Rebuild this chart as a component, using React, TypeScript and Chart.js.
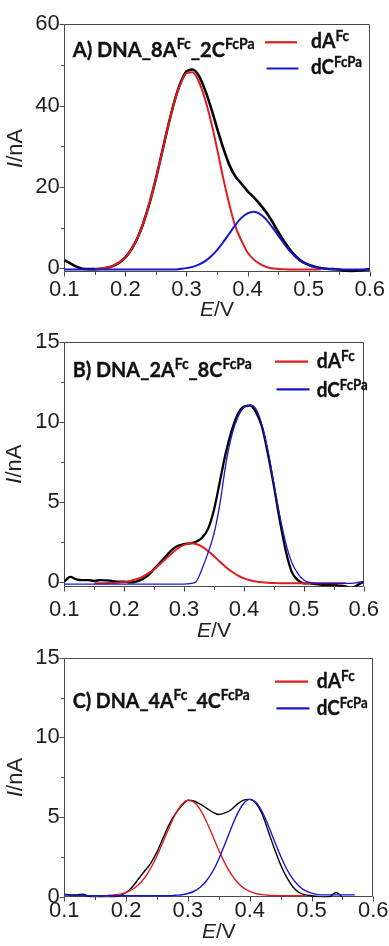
import React, { useEffect, useRef } from "react";
import { Chart, registerables } from "chart.js";

Chart.register(...registerables);

// ---------------- data ----------------
const potentials = [
  0.10, 0.11, 0.12, 0.13, 0.14, 0.15, 0.16, 0.17, 0.18, 0.19,
  0.20, 0.21, 0.22, 0.23, 0.24, 0.25, 0.26, 0.27, 0.28, 0.29,
  0.30, 0.31, 0.32, 0.33, 0.34, 0.35, 0.36, 0.37, 0.38, 0.39,
  0.40, 0.41, 0.42, 0.43, 0.44, 0.45, 0.46, 0.47, 0.48, 0.49,
  0.50, 0.51, 0.52, 0.53, 0.54, 0.55, 0.56, 0.57, 0.58, 0.59, 0.60,
];

const xTickValues = [0.1, 0.2, 0.3, 0.4, 0.5, 0.6];
const xTickLabels = ["0.1", "0.2", "0.3", "0.4", "0.5", "0.6"];
const xMinorValues = [0.15, 0.25, 0.35, 0.45, 0.55];

const yTicksA = [0, 20, 40, 60];
const yTickLabelsA = ["0", "20", "40", "60"];
const yMinorA = [10, 30, 50];
const yTicksBC = [0, 5, 10, 15];
const yTickLabelsBC = ["0", "5", "10", "15"];
const yMinorBC = [2.5, 7.5, 12.5];

// Panel A (nA)
const measuredA = [
  2.0, 1.2, 0.4, -0.1, -0.2, -0.2, -0.1, 0.15, 0.6, 1.4,
  2.7, 4.7, 7.5, 11.4, 16.3, 22.1, 28.5, 35.0, 40.9, 45.5,
  48.4, 48.9, 47.4, 44.0, 39.6, 34.5, 29.7, 25.5, 22.6, 20.8,
  19.0, 17.5, 15.8, 13.9, 11.6, 9.0, 6.6, 4.5, 2.8, 1.6,
  0.9, 0.4, 0.1, -0.1, -0.2, -0.3, -0.6, -0.7, -0.6, -0.4, -0.2,
];
const fitAdA = [
  null, null, null, null, null, -0.2, -0.05, 0.2, 0.66, 1.45,
  2.7, 4.7, 7.5, 11.4, 16.3, 22.1, 28.5, 35.0, 40.8, 45.3,
  48.0, 48.2, 46.0, 41.8, 36.2, 29.5, 22.3, 15.8, 10.3, 6.8,
  3.9, 2.2, 1.1, 0.4, 0.0, -0.15, -0.25, -0.3, -0.3, -0.3,
  -0.3, -0.3, -0.3, null, null, null, null, null, null, null, null,
];
const fitAdC = [
  -0.3, -0.3, -0.3, -0.3, -0.3, -0.3, -0.3, -0.3, -0.3, -0.3,
  -0.3, -0.3, -0.3, -0.3, -0.3, -0.3, -0.3, -0.3, -0.3, -0.13,
  0.05, 0.36, 0.9, 1.7, 2.9, 4.5, 6.4, 8.5, 10.6, 12.4,
  13.5, 13.9, 13.4, 12.1, 10.2, 8.1, 6.0, 4.1, 2.6, 1.5,
  0.8, 0.3, 0.0, -0.15, -0.22, -0.3, -0.3, -0.3, -0.3, -0.3, -0.3,
];

// Panel B (nA)
const measuredB = [
  0.0, 0.3, 0.15, 0.1, 0.1, 0.05, 0.1, 0.08, 0.05, 0.0,
  0.0, -0.05, 0.0, 0.15, 0.4, 0.8, 1.2, 1.6, 2.0, 2.25,
  2.35, 2.4, 2.5, 2.75, 3.3, 4.5, 6.3, 8.1, 9.5, 10.5,
  10.95, 11.0, 10.6, 9.7, 8.0, 6.0, 3.8, 1.9, 0.6, 0.1,
  -0.1, -0.1, -0.15, -0.2, -0.2, -0.2, -0.25, -0.3, -0.4, -0.2, 0.0,
];
const fitBdA = [
  null, null, null, null, null, -0.1, -0.1, -0.09, -0.08, -0.06,
  -0.02, 0.05, 0.15, 0.3, 0.52, 0.78, 1.1, 1.45, 1.8, 2.09,
  2.3, 2.4, 2.36, 2.19, 1.92, 1.59, 1.24, 0.9, 0.62, 0.38,
  0.21, 0.09, 0.01, -0.04, -0.07, -0.08, -0.1, -0.1, -0.1, -0.1,
  -0.1, -0.1, -0.1, -0.1, -0.1, -0.1, -0.1, -0.1, null, null, null,
];
const fitBdC = [
  -0.15, -0.15, -0.15, -0.15, -0.15, -0.15, -0.15, -0.15, -0.15, -0.15,
  -0.15, -0.15, -0.15, -0.15, -0.15, -0.15, -0.15, -0.15, -0.15, -0.15,
  -0.15, -0.12, 0.0, 0.8, 1.8, 3.0, 4.9, 7.4, 9.2, 10.3,
  10.9, 11.05, 10.8, 9.8, 8.2, 6.1, 4.1, 2.4, 1.2, 0.5,
  0.1, -0.05, -0.1, -0.1, -0.1, -0.1, -0.1, -0.1, -0.1, -0.05, 0.0,
];

// Panel C (nA)
const measuredC = [
  0.15, 0.1, 0.1, 0.15, 0.0, -0.1, -0.05, -0.1, -0.05, 0.05,
  0.25, 0.6, 1.1, 1.6, 2.1, 2.8, 3.7, 4.55, 5.2, 5.7,
  6.05, 6.0, 5.8, 5.55, 5.3, 5.15, 5.25, 5.45, 5.8, 6.05,
  6.1, 5.85, 5.2, 4.1, 3.0, 2.0, 1.2, 0.6, 0.25, 0.1,
  0.05, 0.0, -0.05, 0.0, 0.25, -0.05, null, null, null, null, null,
];
const fitCdA = [
  null, null, null, null, null, null, null, 0.07, 0.1, 0.15,
  0.26, 0.44, 0.74, 1.18, 1.79, 2.56, 3.45, 4.36, 5.18, 5.78,
  6.04, 5.93, 5.45, 4.71, 3.82, 2.9, 2.08, 1.4, 0.9, 0.54,
  0.32, 0.19, 0.12, 0.08, 0.06, 0.05, 0.05, 0.05, 0.05, 0.05,
  null, null, null, null, null, null, null, null, null, null, null,
];
const fitCdC = [
  0.1, 0.08, 0.06, 0.05, 0.05, 0.05, 0.05, 0.05, 0.05, 0.05,
  0.05, 0.05, 0.05, 0.05, 0.05, 0.05, 0.05, 0.05, 0.08, 0.11,
  0.19, 0.33, 0.58, 0.99, 1.57, 2.36, 3.3, 4.29, 5.19, 5.83,
  6.1, 5.92, 5.34, 4.48, 3.49, 2.54, 1.71, 1.09, 0.65, 0.37,
  0.21, 0.12, 0.1, 0.1, 0.1, 0.1, 0.1, 0.1, null, null, null,
];

type Part = [string, boolean];
const titleA: Part[] = [["A) DNA_8A", false], ["Fc", true], ["_2C", false], ["FcPa", true]];
const titleB: Part[] = [["B) DNA_2A", false], ["Fc", true], ["_8C", false], ["FcPa", true]];
const titleC: Part[] = [["C) DNA_4A", false], ["Fc", true], ["_4C", false], ["FcPa", true]];
const legendRedLabel: Part[] = [["dA", false], ["Fc", true]];
const legendBlueLabel: Part[] = [["dC", false], ["FcPa", true]];
const xTitle: Part[] = [["E", true], ["/V", false]];
const yTitle: Part[] = [["I", true], ["/nA", false]];

// ---------------- layout / style ----------------
const W = 389;
const AREA_LEFT = 64.3;
const AREA_RIGHT = 373.3;
const RED = "#e01c1c";
const BLUE = "#1717cf";
const FRAME = "#4a4a4a";
const TICK_FONT = "'Liberation Sans', Arial, sans-serif";
const TITLE_FONT = "Lato, 'Open Sans', sans-serif";

type Layout = {
  top: number; h: number; areaTop: number; areaBottom: number;
  yMin: number; yMax: number; xTickPad: number;
  xTitleBase: number; yTitleX: number;
  titleX: number; titleBase: number; titleW: number;
  legLineX1: number; legLineX2: number; legTextX: number;
  redLineY: number; redBase: number; blueLineY: number; blueBase: number;
  wBlack: number; wRed: number; wBlue: number;
};

type PanelCfg = {
  layout: Layout;
  measured: (number | null)[]; dA: (number | null)[]; dC: (number | null)[];
  yTicks: number[]; yLabels: string[]; yMinor: number[]; title: Part[];
};

const panels: PanelCfg[] = [
  {
    layout: {
      top: 0, h: 318, areaTop: 24.3, areaBottom: 272.4, yMin: -1, yMax: 60, xTickPad: 4,
      xTitleBase: 316, yTitleX: 15.5,
      titleX: 72.7, titleBase: 57.3, titleW: 182,
      legLineX1: 265, legLineX2: 297, legTextX: 311,
      redLineY: 42.3, redBase: 48.3, blueLineY: 68.5, blueBase: 74,
      wBlack: 2.6, wRed: 2, wBlue: 2,
    },
    measured: measuredA, dA: fitAdA, dC: fitAdC,
    yTicks: yTicksA, yLabels: yTickLabelsA, yMinor: yMinorA, title: titleA,
  },
  {
    layout: {
      top: 318, h: 322, areaTop: 23.7, areaBottom: 268.5, yMin: -0.3, yMax: 15, xTickPad: 10,
      xTitleBase: 318.5, yTitleX: 15.3,
      titleX: 72.7, titleBase: 58.7, titleW: 179,
      legLineX1: 275, legLineX2: 308, legTextX: 316.7,
      redLineY: 43.7, redBase: 50.3, blueLineY: 71.3, blueBase: 78.7,
      wBlack: 2.3, wRed: 2, wBlue: 1.3,
    },
    measured: measuredB, dA: fitBdA, dC: fitBdC,
    yTicks: yTicksBC, yLabels: yTickLabelsBC, yMinor: yMinorBC, title: titleB,
  },
  {
    layout: {
      top: 640, h: 306, areaTop: 16.5, areaBottom: 257.3, yMin: -0.05, yMax: 15, xTickPad: 0,
      xTitleBase: 298, yTitleX: 15.8,
      titleX: 72.7, titleBase: 68.3, titleW: 177,
      legLineX1: 275, legLineX2: 308, legTextX: 316.7,
      redLineY: 41.7, redBase: 48.3, blueLineY: 68.3, blueBase: 75,
      wBlack: 1.4, wRed: 1.4, wBlue: 1.4,
    },
    measured: measuredC, dA: fitCdA, dC: fitCdC,
    yTicks: yTicksBC, yLabels: yTickLabelsBC, yMinor: yMinorBC, title: titleC,
  },
];

// ---------------- drawing helpers ----------------
function drawRich(
  ctx: CanvasRenderingContext2D, parts: Part[], x: number, y: number,
  size: number, targetW: number, supScale: number, supRise: number,
) {
  ctx.save();
  const fontFor = (sup: boolean) => `700 ${sup ? size * supScale : size}px ${TITLE_FONT}`;
  let w = 0;
  for (const [t, sup] of parts) { ctx.font = fontFor(sup); w += ctx.measureText(t).width; }
  const sx = targetW > 0 ? targetW / w : 1;
  ctx.translate(x, y);
  ctx.scale(sx, 1);
  ctx.fillStyle = "#111";
  ctx.strokeStyle = "#111";
  ctx.lineWidth = 0.35;
  ctx.textAlign = "left";
  ctx.textBaseline = "alphabetic";
  let cx = 0;
  for (const [t, sup] of parts) {
    ctx.font = fontFor(sup);
    ctx.fillText(t, cx, sup ? -supRise : 0);
    ctx.strokeText(t, cx, sup ? -supRise : 0);
    cx += ctx.measureText(t).width;
  }
  ctx.restore();
}

function drawAxisTitle(ctx: CanvasRenderingContext2D, parts: Part[], size: number) {
  const fontFor = (it: boolean) => `${it ? "italic " : ""}${size}px ${TICK_FONT}`;
  let w = 0;
  for (const [t, it] of parts) { ctx.font = fontFor(it); w += ctx.measureText(t).width; }
  let cx = -w / 2;
  for (const [t, it] of parts) {
    ctx.font = fontFor(it);
    ctx.fillText(t, cx, 0);
    cx += ctx.measureText(t).width;
  }
}

function makeDecor(cfg: PanelCfg) {
  const L = cfg.layout;
  return {
    id: "decor",
    beforeDatasetsDraw(chart: any) {
      const { ctx, chartArea: ca, scales } = chart;
      const x = scales.x, y = scales.y;
      ctx.save();
      ctx.strokeStyle = FRAME;
      ctx.lineWidth = 1;
      const l = Math.round(ca.left) + 0.5, r = Math.round(ca.right) - 0.5;
      const t = Math.round(ca.top) + 0.5, b = Math.round(ca.bottom) - 0.5;
      ctx.beginPath();
      ctx.rect(l, t, r - l, b - t);
      for (const v of xTickValues) {
        const px = Math.round(x.getPixelForValue(v)) + 0.5;
        ctx.moveTo(px, b); ctx.lineTo(px, b + 5);
      }
      for (const v of xMinorValues) {
        const px = Math.round(x.getPixelForValue(v)) + 0.5;
        ctx.moveTo(px, b); ctx.lineTo(px, b + 3.5);
      }
      for (const v of cfg.yTicks) {
        const py = Math.round(y.getPixelForValue(v)) + 0.5;
        ctx.moveTo(l, py); ctx.lineTo(l - 5, py);
      }
      for (const v of cfg.yMinor) {
        const py = Math.round(y.getPixelForValue(v)) + 0.5;
        ctx.moveTo(l, py); ctx.lineTo(l - 3.5, py);
      }
      ctx.stroke();
      ctx.restore();
    },
    afterDraw(chart: any) {
      const { ctx, chartArea: ca } = chart;
      ctx.save();
      // title
      drawRich(ctx, cfg.title, L.titleX, L.titleBase, 21, L.titleW, 0.7, 8);
      // legend
      ctx.lineWidth = 2.2;
      ctx.strokeStyle = RED;
      ctx.beginPath(); ctx.moveTo(L.legLineX1, L.redLineY); ctx.lineTo(L.legLineX2, L.redLineY); ctx.stroke();
      ctx.strokeStyle = BLUE;
      ctx.beginPath(); ctx.moveTo(L.legLineX1 + 1.5, L.blueLineY); ctx.lineTo(L.legLineX2 + 1.5, L.blueLineY); ctx.stroke();
      drawRich(ctx, legendRedLabel, L.legTextX, L.redBase, 21, 38, 0.7, 7);
      drawRich(ctx, legendBlueLabel, L.legTextX, L.blueBase, 21, 51, 0.7, 7);
      // axis titles
      ctx.fillStyle = "#222";
      ctx.textBaseline = "alphabetic";
      ctx.textAlign = "left";
      ctx.save();
      ctx.translate((ca.left + ca.right) / 2, L.xTitleBase);
      drawAxisTitle(ctx, xTitle, 21);
      ctx.restore();
      ctx.save();
      ctx.translate(L.yTitleX, (ca.top + ca.bottom) / 2);
      ctx.rotate(-Math.PI / 2);
      ctx.textBaseline = "middle";
      drawAxisTitle(ctx, yTitle, 22);
      ctx.restore();
      ctx.restore();
    },
  };
}

function toPoints(vals: (number | null)[]) {
  return potentials.map((e, i) => ({ x: e, y: vals[i] }));
}

function Panel({ cfg }: { cfg: PanelCfg }) {
  const ref = useRef<HTMLCanvasElement>(null);
  useEffect(() => {
    const L = cfg.layout;
    const tickFont = { family: TICK_FONT, size: 22 };
    const chart = new Chart(ref.current as HTMLCanvasElement, {
      type: "line",
      data: {
        datasets: [
          {
            data: toPoints(cfg.measured) as any, borderColor: "#000", borderWidth: L.wBlack,
            pointRadius: 0, fill: false, cubicInterpolationMode: "monotone", order: 3,
          },
          {
            data: toPoints(cfg.dA) as any, borderColor: RED, borderWidth: L.wRed,
            pointRadius: 0, fill: false, cubicInterpolationMode: "monotone", order: 2,
          },
          {
            data: toPoints(cfg.dC) as any, borderColor: BLUE, borderWidth: L.wBlue,
            pointRadius: 0, fill: false, cubicInterpolationMode: "monotone", order: 1,
          },
        ],
      },
      options: {
        animation: false,
        responsive: false,
        maintainAspectRatio: false,
        events: [],
        layout: { padding: { left: 0, right: W - AREA_RIGHT, top: L.areaTop, bottom: 0 } },
        plugins: { legend: { display: false }, tooltip: { enabled: false } },
        scales: {
          x: {
            type: "linear", min: 0.1, max: 0.6,
            grid: { display: false, drawTicks: false },
            border: { display: false },
            afterBuildTicks: (s: any) => { s.ticks = xTickValues.map((v) => ({ value: v })); },
            afterFit: (s: any) => { s.height = L.h - L.areaBottom; },
            ticks: {
              callback: (_v: any, i: number) => xTickLabels[i],
              font: tickFont, color: "#1e1e1e", padding: L.xTickPad,
              maxRotation: 0, autoSkip: false,
            },
          },
          y: {
            type: "linear", min: L.yMin, max: L.yMax,
            grid: { display: false, drawTicks: false },
            border: { display: false },
            afterBuildTicks: (s: any) => { s.ticks = cfg.yTicks.map((v) => ({ value: v })); },
            afterFit: (s: any) => { s.width = AREA_LEFT; },
            ticks: {
              callback: (_v: any, i: number) => cfg.yLabels[i],
              font: tickFont, color: "#1e1e1e", padding: 4.5, autoSkip: false,
            },
          },
        },
      } as any,
      plugins: [makeDecor(cfg)],
    });
    return () => chart.destroy();
  }, [cfg]);
  return (
    <canvas
      ref={ref}
      width={W}
      height={cfg.layout.h}
      style={{ position: "absolute", left: 0, top: cfg.layout.top, width: W, height: cfg.layout.h }}
    />
  );
}

export default function App() {
  return (
    <div style={{ position: "absolute", left: 0, top: 0, width: W, height: 946, background: "#fff" }}>
      {panels.map((p, i) => (
        <Panel key={i} cfg={p} />
      ))}
    </div>
  );
}
